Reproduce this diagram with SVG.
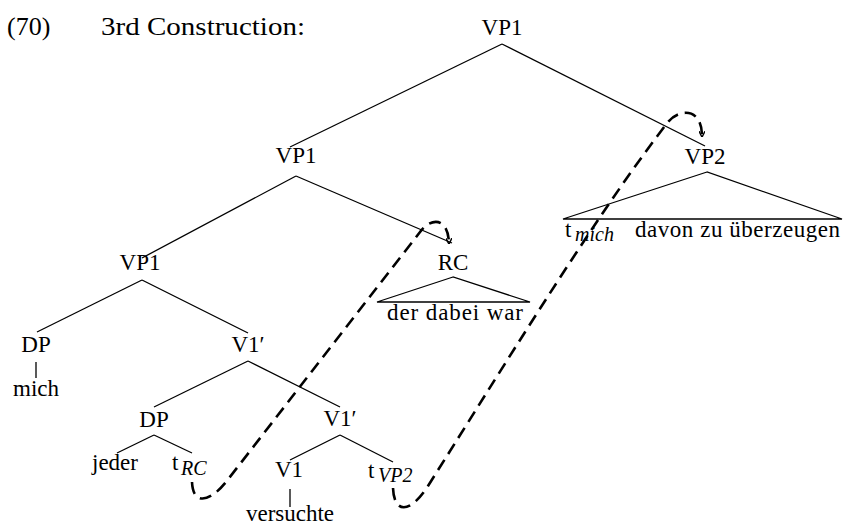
<svg xmlns="http://www.w3.org/2000/svg" width="843" height="528" viewBox="0 0 843 528">
  <defs>
    <style>
      text { font-family: "Liberation Serif", "DejaVu Serif", serif; font-size: 23px; fill: #000; }
      .title { font-size: 26px; }
      .mid { text-anchor: middle; }
      .sub { font-style: italic; font-size: 20px; }
      .edge { stroke: #000; stroke-width: 1.3; fill: none; }
      .move { stroke: #000; stroke-width: 2.6; fill: none; stroke-dasharray: 12 7; }
    </style>
    <marker id="arrow" viewBox="0 0 10 10" refX="8" refY="5" markerWidth="6" markerHeight="6" orient="auto" markerUnits="userSpaceOnUse">
      <path d="M0,0 L10,5 L0,10" fill="none" stroke="#000" stroke-width="2.4"/>
    </marker>
  </defs>

  <rect width="843" height="528" fill="#fff"/>

  <g id="heading">
    <text class="title" x="7" y="35">(70)</text>
    <text class="title" x="101" y="35" textLength="204" lengthAdjust="spacingAndGlyphs">3rd Construction:</text>
  </g>

  <!-- tree branches -->
  <g id="branches">
    <line class="edge" x1="502" y1="44" x2="290" y2="147"/>
    <line class="edge" x1="502" y1="44" x2="705" y2="146"/>
    <line class="edge" x1="296" y1="176" x2="142" y2="258"/>
    <line class="edge" x1="296" y1="176" x2="452" y2="243"/>
    <line class="edge" x1="142" y1="280" x2="37" y2="332"/>
    <line class="edge" x1="142" y1="280" x2="248" y2="333"/>
    <line class="edge" x1="36" y1="362" x2="36" y2="378"/>
    <line class="edge" x1="248" y1="361" x2="154" y2="407"/>
    <line class="edge" x1="248" y1="361" x2="340" y2="407"/>
    <line class="edge" x1="154" y1="435" x2="117" y2="453"/>
    <line class="edge" x1="154" y1="435" x2="192" y2="453"/>
    <line class="edge" x1="340" y1="435" x2="290" y2="460"/>
    <line class="edge" x1="340" y1="435" x2="393" y2="462"/>
    <line class="edge" x1="290" y1="489" x2="290" y2="507"/>
    <polygon class="edge" points="453,277 377,302 530,302"/>
    <polygon class="edge" points="707,172 563,219 842,219"/>
  </g>

  <g id="vp1-top"><text class="mid" x="502" y="35">VP1</text></g>
  <g id="vp1-mid"><text class="mid" x="296" y="163">VP1</text></g>
  <g id="vp2">
    <text class="mid" x="705" y="164">VP2</text>
    <text x="565" y="237">t</text>
    <text class="sub" x="575" y="241">mich</text>
    <text x="635" y="237" textLength="205" lengthAdjust="spacing">davon zu überzeugen</text>
  </g>
  <g id="vp1-low"><text class="mid" x="140" y="270">VP1</text></g>
  <g id="rc">
    <text class="mid" x="453" y="270">RC</text>
    <text x="387" y="320" textLength="136" lengthAdjust="spacing">der dabei war</text>
  </g>
  <g id="dp-mich">
    <text class="mid" x="36" y="352">DP</text>
    <text class="mid" x="36" y="396">mich</text>
  </g>
  <g id="v1bar-upper"><text class="mid" x="248" y="352">V1′</text></g>
  <g id="dp-jeder">
    <text class="mid" x="154" y="427">DP</text>
    <text class="mid" x="115" y="470">jeder</text>
    <text x="172" y="470">t</text>
    <text class="sub" x="181" y="475">RC</text>
  </g>
  <g id="v1bar-lower"><text class="mid" x="340" y="426">V1′</text></g>
  <g id="v1">
    <text class="mid" x="289" y="477">V1</text>
    <text class="mid" x="290" y="521">versuchte</text>
  </g>
  <g id="trace-vp2">
    <text x="368" y="478">t</text>
    <text class="sub" x="378" y="482">VP2</text>
  </g>

  <!-- movement arrows -->
  <g id="movement">
    <path class="move" marker-end="url(#arrow)" d="M192,482 C193,506 210,502 226,482 L420,232 C430,218 448,216 449,243"/>
    <path class="move" marker-end="url(#arrow)" d="M393,488 C394,514 410,514 428,486 C520,340 600,210 668,122 C680,108 702,108 702,136"/>
  </g>
</svg>
